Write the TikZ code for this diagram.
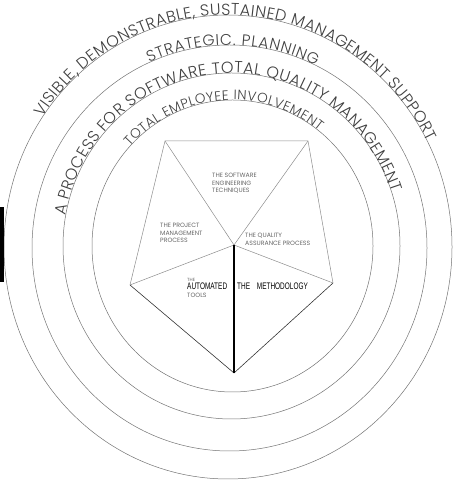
\documentclass[tikz,border=0pt]{standalone}
\usepackage{fontspec}
\usepackage{graphicx}
\usetikzlibrary{decorations.text}
\setmainfont{Poppins}
\newfontfamily\ringfont{Poppins}[UprightFont=* Light]
\newfontfamily\boldlabfont{Liberation Sans}
\definecolor{ringgray}{gray}{0.45}
\definecolor{labgray}{gray}{0.4}
\tikzset{
	ring/.style={draw=ringgray, line width=0.5pt},
	thinside/.style={draw=black!45, line width=0.5pt},
	darkside/.style={draw=black!80, line width=0.6pt},
	smalllab/.style={inner sep=0pt, anchor=north west, align=left, text=labgray, font=\fontsize{6.2}{7.6}\selectfont},
	blacklab/.style={inner sep=0pt, anchor=base west, font=\boldlabfont\fontsize{9.5}{10}\selectfont},
	ringtext/.style 2 args={decorate, decoration={text along path, text align={fit to path}, text={|\ringfont\fontsize{#1}{#1}\selectfont\color{black!75}|#2}}}
}

\begin{document}
\begin{tikzpicture}[x=1pt, y=1pt]
	\useasboundingbox (0,0) rectangle (455,481);
	
	% rings
	\foreach \cx/\cy/\rx/\ry in {228/234/224/232, 229.5/233/197.5/203, 231.5/235/168.5/173, 232.5/235/140.5/146}
	{
		\draw[ring] (\cx,\cy) ellipse [x radius=\rx, y radius=\ry];
	}
	
	\path[ringtext={16}{VISIBLE, DEMONSTRABLE, SUSTAINED MANAGEMENT SUPPORT}] (228,234) ++(146:224 and 232) arc[start angle=146, end angle=27, x radius=224, y radius=232];
	\path[ringtext={15.5}{STRATEGIC. PLANNING}] (229.5,233) ++(114:197.5 and 203) arc[start angle=114, end angle=64, x radius=197.5, y radius=203];
	\path[ringtext={16}{A PROCESS FOR SOFTWARE TOTAL QUALITY MANAGEMENT}] (231.5,235) ++(170:168.5 and 173) arc[start angle=170, end angle=18, x radius=168.5, y radius=173];
	\path[ringtext={13.5}{TOTAL EMPLOYEE INVOLVEMENT}] (232.5,235) ++(137:140.5 and 146) arc[start angle=137, end angle=52, x radius=140.5, y radius=146];
	
	% pentagon
	\coordinate (tl) at (165,340);
	\coordinate (tr) at (308,340);
	\coordinate (rt) at (333,198);
	\coordinate (bt) at (234,108);
	\coordinate (lt) at (130,196);
	\coordinate (mid) at (234,236);
	
	\draw[thinside] (lt) -- (tl) -- (tr) -- (rt);
	\draw[darkside] (rt) -- (bt) -- (lt);
	\foreach \v in {tl, tr, rt, lt}
	{
		\draw[thinside] (mid) -- (\v);
	}
	\draw[black, line width=1.2pt] (mid) -- (bt);
	
	\node[smalllab] (soft) at (212,308) {THE SOFTWARE\\ENGINEERING\\TECHNIQUES};
	\node[smalllab] (proj) at (160,258) {THE PROJECT\\MANAGEMENT\\PROCESS};
	\node[smalllab] (qual) at (245,248) {THE QUALITY\\ASSURANCE PROCESS};
	\node[smalllab, font=\fontsize{4.5}{5}\selectfont] (autothe) at (187,203) {THE};
	\node[smalllab] (tools) at (187,188) {TOOLS};
	\node[blacklab] (auto) at (187,191) {\scalebox{0.68}[1]{AUTOMATED}};
	\node[blacklab] (meth) at (237,191) {\scalebox{0.68}[1]{THE\hspace{10pt}METHODOLOGY}};
	
	% edge mark
	\fill[black] (0,199) rectangle (4,274);
\end{tikzpicture}
\end{document}
